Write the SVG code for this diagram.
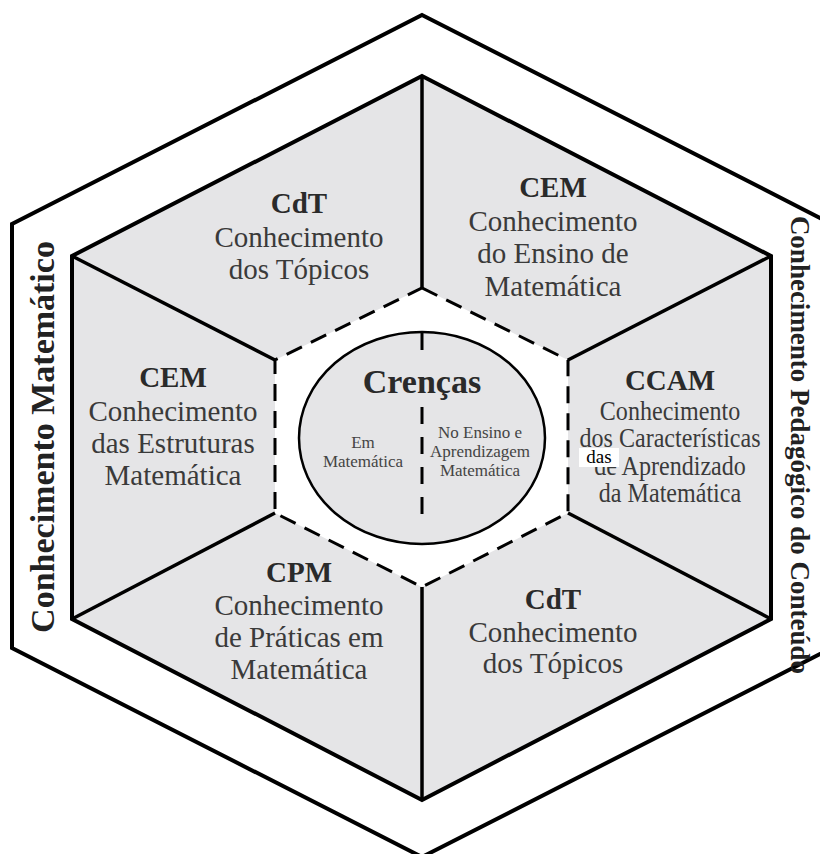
<svg xmlns="http://www.w3.org/2000/svg" width="820" height="854" viewBox="0 0 820 854">
  <style>
    .edge { fill: none; stroke: #000; stroke-width: 4; stroke-linejoin: miter; }
    .panel { fill: #e5e5e7; stroke: #000; stroke-width: 4; stroke-linejoin: miter; }
    .core { fill: #ffffff; stroke: #000; stroke-width: 3; stroke-dasharray: 17 10; }
    .sep { stroke: #000; stroke-width: 3.5; fill: none; }
    .div { stroke: #000; stroke-width: 3; fill: none; }
    text { font-family: "Liberation Serif", "Times New Roman", serif; text-anchor: middle; }
    .ttl { font-size: 29px; font-weight: bold; fill: #2a2a2a; }
    .body { font-size: 29px; fill: #3a3a3a; }
    .cond { font-size: 28px; fill: #3a3a3a; }
    .small { font-size: 17px; fill: #444; }
    .side { font-weight: bold; fill: #222; }
  </style>

  <!-- outer frame -->
  <g id="frame">
    <polygon class="edge" points="422,15 832,224 832,648 422,857 12,648 12,224"/>
    <text class="side" font-size="34" transform="translate(54,437) rotate(-90)">Conhecimento Matemático</text>
    <text class="side" font-size="27" transform="translate(791,445) rotate(90)">Conhecimento Pedagógico do Conteúdo</text>
  </g>

  <!-- knowledge ring -->
  <g id="ring">
    <polygon class="panel" points="422,76 771,256 771,619 422,800 72,619 72,256"/>
  </g>

  <!-- core hexagon -->
  <g id="core">
    <polygon class="core" points="422,288 568,360 568,513 422,587 275,513 275,360"/>
  </g>

  <!-- separators between sectors -->
  <g id="connectors">
    <line class="sep" x1="422" y1="288" x2="422" y2="76"/>
    <line class="sep" x1="275" y1="360" x2="72" y2="256"/>
    <line class="sep" x1="275" y1="513" x2="72" y2="619"/>
    <line class="sep" x1="422" y1="587" x2="422" y2="800"/>
    <line class="sep" x1="568" y1="513" x2="771" y2="619"/>
    <line class="sep" x1="568" y1="360" x2="771" y2="256"/>
  </g>

  <g id="cdt-top">
    <text class="ttl" x="299" y="213">CdT</text>
    <text class="body" x="299" y="247">Conhecimento</text>
    <text class="body" x="299" y="279">dos Tópicos</text>
  </g>

  <g id="cem-ensino">
    <text class="ttl" x="553" y="197">CEM</text>
    <text class="body" x="553" y="231">Conhecimento</text>
    <text class="body" x="553" y="263">do Ensino de</text>
    <text class="body" x="553" y="296">Matemática</text>
  </g>

  <g id="cem-estruturas">
    <text class="ttl" x="173" y="387">CEM</text>
    <text class="body" x="173" y="421">Conhecimento</text>
    <text class="body" x="173" y="453">das Estruturas</text>
    <text class="body" x="173" y="485">Matemática</text>
  </g>

  <g id="ccam">
    <text class="ttl" x="670" y="390">CCAM</text>
    <g transform="translate(670,0) scale(0.86,1)">
      <text class="cond" x="0" y="420">Conhecimento</text>
      <text class="cond" x="0" y="447">dos Características</text>
      <text class="cond" x="0" y="475">de Aprendizado</text>
      <text class="cond" x="0" y="502">da Matemática</text>
    </g>
    <rect x="579" y="448" width="40" height="19" fill="#ffffff"/>
    <text x="599" y="463" font-size="19" fill="#000">das</text>
  </g>

  <g id="cpm">
    <text class="ttl" x="299" y="582">CPM</text>
    <text class="body" x="299" y="615">Conhecimento</text>
    <text class="body" x="299" y="647">de Práticas em</text>
    <text class="body" x="299" y="679">Matemática</text>
  </g>

  <g id="cdt-bottom">
    <text class="ttl" x="553" y="609">CdT</text>
    <text class="body" x="553" y="642">Conhecimento</text>
    <text class="body" x="553" y="673">dos Tópicos</text>
  </g>

  <g id="crencas">
    <ellipse cx="422" cy="438" rx="123" ry="106" fill="#e5e5e7" stroke="#000" stroke-width="2.5"/>
    <line class="div" x1="422" y1="332" x2="422" y2="350"/>
    <line class="div" x1="422" y1="407" x2="422" y2="521" stroke-dasharray="17 13"/>
    <text x="422" y="393" font-size="34" font-weight="bold" fill="#2a2a2a">Crenças</text>
    <text class="small" x="363" y="448">Em</text>
    <text class="small" x="363" y="467">Matemática</text>
    <text class="small" x="480" y="438">No Ensino e</text>
    <text class="small" x="480" y="457">Aprendizagem</text>
    <text class="small" x="480" y="476">Matemática</text>
  </g>
</svg>
